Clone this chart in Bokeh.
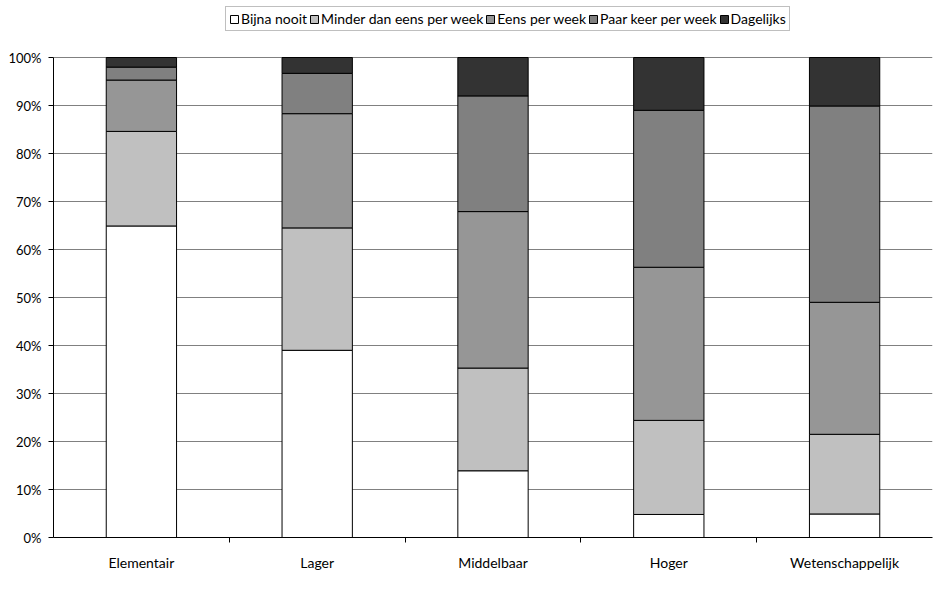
from bokeh.plotting import figure
from bokeh.models import (ColumnDataSource, Legend, LegendItem, FixedTicker,
                          NumeralTickFormatter, Range1d)
from bokeh.embed import file_html
from bokeh.resources import INLINE

categories = ["Elementair", "Lager", "Middelbaar", "Hoger", "Wetenschappelijk"]
series = ["Bijna nooit", "Minder dan eens per week", "Eens per week",
          "Paar keer per week", "Dagelijks"]
bijna_nooit = [0.649, 0.390, 0.139, 0.048, 0.049]
minder_dan_eens = [0.197, 0.255, 0.214, 0.196, 0.166]
eens_per_week = [0.107, 0.238, 0.326, 0.319, 0.275]
paar_keer = [0.027, 0.084, 0.241, 0.327, 0.409]
dagelijks = [0.020, 0.033, 0.080, 0.110, 0.101]
colors = ["#ffffff", "#c0c0c0", "#969696", "#808080", "#333333"]
y_ticks = [i / 10 for i in range(11)]

FONT = "Lato"

# frame spans from the page top to the 0% line; 100% sits 480px above 0%
H, BOTTOM, PLOT_H = 592, 55, 480
y_top = (H - BOTTOM) / PLOT_H

xs = list(range(1, len(categories) + 1))
keys = ["s0", "s1", "s2", "s3", "s4"]
data = dict(x=xs, s0=bijna_nooit, s1=minder_dan_eens, s2=eens_per_week,
            s3=paar_keer, s4=dagelijks)
src = ColumnDataSource(data)

p = figure(width=935, height=H, output_backend="svg", toolbar_location=None,
           x_range=Range1d(0.5, len(categories) + 0.5),
           y_range=Range1d(0, y_top),
           min_border_left=53, min_border_right=3, min_border_top=0,
           min_border_bottom=BOTTOM)
p.outline_line_color = None

rs = p.vbar_stack(keys, x="x", width=0.4, source=src, fill_color=colors,
                  line_color="black", line_width=1)

# axes
p.xaxis.ticker = FixedTicker(ticks=xs, minor_ticks=[x + 0.5 for x in xs[:-1]])
p.xaxis.major_label_overrides = {x: c for x, c in zip(xs, categories)}
p.xaxis.major_tick_line_color = None
p.xaxis.minor_tick_line_color = "black"
p.xaxis.minor_tick_in = 0
p.xaxis.minor_tick_out = 5
p.xaxis.axis_line_color = "black"
p.xaxis.major_label_standoff = 10
p.xaxis.major_label_text_font = FONT
p.xaxis.major_label_text_font_size = "14px"
p.xaxis.major_label_text_color = "black"

p.yaxis.ticker = FixedTicker(ticks=y_ticks, minor_ticks=[])
p.yaxis.bounds = (0, 1)
p.yaxis.formatter = NumeralTickFormatter(format="0%")
p.yaxis.major_tick_in = 0
p.yaxis.major_tick_out = 5
p.yaxis.major_tick_line_color = "black"
p.yaxis.axis_line_color = "black"
p.yaxis.major_label_standoff = 7
p.yaxis.major_label_text_font = FONT
p.yaxis.major_label_text_font_size = "13px"
p.yaxis.major_label_text_color = "black"

p.xgrid.visible = False
p.ygrid.ticker = FixedTicker(ticks=y_ticks)
p.ygrid.grid_line_color = "#808080"
p.ygrid.grid_line_width = 1
p.ygrid.level = "underlay"

items = [LegendItem(label=s, renderers=[r]) for s, r in zip(series, rs)]
legend = Legend(items=items, orientation="horizontal", location=(172, 506),
                label_text_font=FONT, label_text_font_size="14px",
                label_text_color="black", glyph_width=10, glyph_height=10,
                spacing=2, label_standoff=2, padding=3, margin=0,
                border_line_color="#808080", border_line_width=1,
                label_height=14)
p.add_layout(legend, "center")

open("out.html", "w").write(file_html(p, INLINE))
